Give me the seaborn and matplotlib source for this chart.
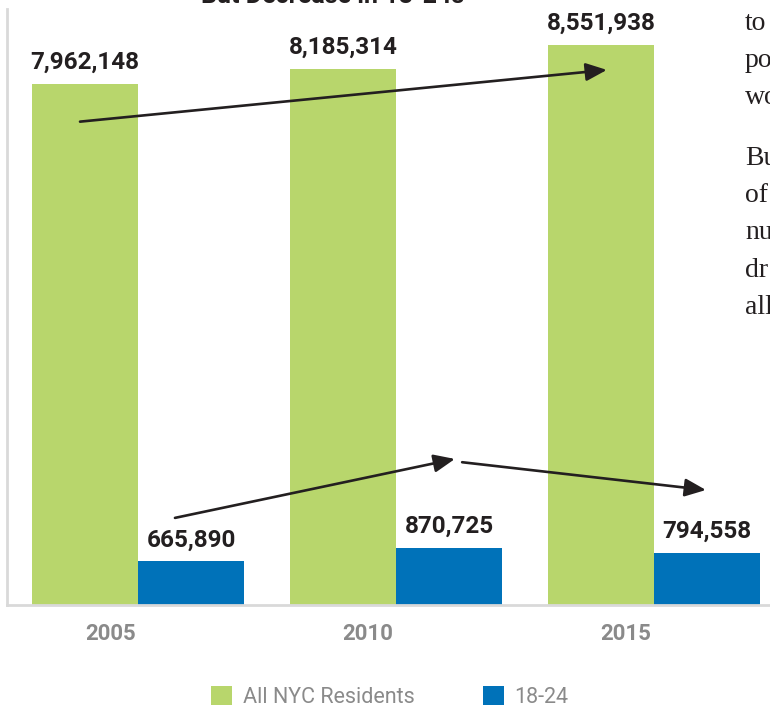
import matplotlib
matplotlib.use("Agg")
import matplotlib.pyplot as plt
from matplotlib.transforms import ScaledTranslation
import seaborn as sns
import pandas as pd

# ---- data ----
years = ["2005", "2010", "2015"]
all_residents = [7962148, 8185314, 8551938]
age_18_24 = [665890, 870725, 794558]
series_names = ["All NYC Residents", "18-24"]
colors = ["#b8d66c", "#0072b9"]
title_text = "But Decrease in 18-24s"
side_text = ["to", "po", "wo", "Bu", "of", "nu", "dr", "all"]

df = pd.DataFrame({
    "year": years * 2,
    "value": all_residents + age_18_24,
    "series": [series_names[0]] * 3 + [series_names[1]] * 3,
})

sns.set_theme(style="white")
SANS = ["Roboto", "DejaVu Sans"]
plt.rcParams["font.family"] = SANS

W, H = 770, 709
fig = plt.figure(figsize=(W / 100, H / 100), dpi=100)
ax = fig.add_axes([7 / W, (H - 605) / H, 789 / W, (605 - 9) / H])

sns.barplot(data=df, x="year", y="value", hue="series", palette=colors,
            width=0.82, saturation=1, linewidth=0, ax=ax, legend=True)

ax.set_xlim(-0.508, 2.55)
ax.set_ylim(0, 9.1e6)
ax.set_xlabel("")
ax.set_ylabel("")
ax.set_yticks([])
ax.tick_params(axis="x", length=0, pad=13, labelsize=16, labelcolor="#8a8a8a")
shift = ScaledTranslation(-28 / 100, 0, fig.dpi_scale_trans)
for lbl in ax.get_xticklabels():
    lbl.set_fontweight("bold")
    lbl.set_transform(lbl.get_transform() + shift)

for s in ["top", "right"]:
    ax.spines[s].set_visible(False)
for s in ["left", "bottom"]:
    ax.spines[s].set_color("#d9d9d9")
    ax.spines[s].set_linewidth(2)

for cont in ax.containers:
    ax.bar_label(cont, labels=[f"{v:,.0f}" for v in cont.datavalues],
                 padding=7, fontsize=17.5, fontweight="bold", color="#231f20")

# arrows (trend annotations)
arrow_kw = dict(arrowstyle="-|>,head_length=0.75,head_width=0.32",
                color="#231f20", lw=1.9, mutation_scale=17,
                shrinkA=0, shrinkB=0)
ax.annotate("", xy=(1.817, 8.17e6), xytext=(-0.225, 7.38e6), arrowprops=arrow_kw)
ax.annotate("", xy=(1.228, 2.23e6), xytext=(0.143, 1.33e6), arrowprops=arrow_kw)
ax.annotate("", xy=(2.201, 1.756e6), xytext=(1.256, 2.18e6), arrowprops=arrow_kw)

# legend
handles, labels = ax.get_legend_handles_labels()
ax.get_legend().remove()
fig.legend(handles, labels, loc="center", bbox_to_anchor=(390 / W, 1 - 697 / H),
           ncol=2, frameon=False, fontsize=15.5, labelcolor="#8a8a8a",
           handlelength=0.95, handleheight=0.95, handletextpad=0.5,
           columnspacing=3.2, borderpad=0)

# clipped title at top
fig.text(333 / W, 1 - 3 / H, title_text, ha="center", va="baseline",
         fontsize=18, fontweight="bold", color="#231f20")

# clipped body text at right edge
for i, t in enumerate(side_text):
    y = 30 + i * 36.8 if i < 3 else 165 + (i - 3) * 37.2
    fig.text(745 / W, 1 - y / H, t, ha="left", va="baseline",
             fontsize=20, color="#231f20",
             family=["Liberation Serif", "DejaVu Serif"])

fig.savefig("out.png", dpi=100)
